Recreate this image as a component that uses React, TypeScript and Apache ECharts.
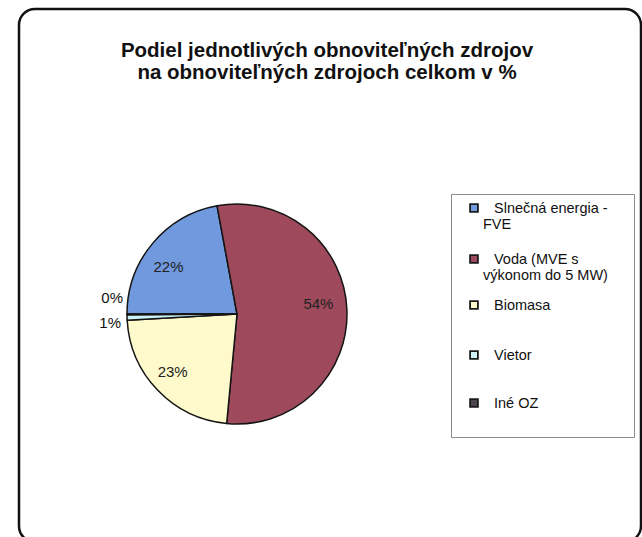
import React, { useEffect, useRef } from "react";
import * as echarts from "echarts";

const titleLines = [
  "Podiel jednotlivých obnoviteľných zdrojov",
  "na obnoviteľných zdrojoch celkom v %",
];
const categories = [
  "Slnečná energia - FVE",
  "Voda (MVE s výkonom do 5 MW)",
  "Biomasa",
  "Vietor",
  "Iné OZ",
];
const legendLines = [
  ["Slnečná energia -", "FVE"],
  ["Voda (MVE s", "výkonom do 5 MW)"],
  ["Biomasa"],
  ["Vietor"],
  ["Iné OZ"],
];
const shares = [22.1, 54.4, 22.6, 0.8, 0.1];
const colors = ["#7199DE", "#9E4A5C", "#FEFACB", "#CDF3F6", "#4E4450"];
const legendTops = [200, 251, 297, 347, 395];
const insideLabelIdx = [0, 1, 2];
const insideLabelOffsets: Record<number, [number, number]> = {
  0: [-2, 8],
  1: [-5, -7],
  2: [-2, -3],
};
const outsideLabelOffsets: Record<number, [number, number]> = { 3: [0, 5.5], 4: [2, -16.5] };

const FONT = "'Liberation Sans', Arial, sans-serif";

export default function App() {
  const ref = useRef<HTMLDivElement>(null);
  useEffect(() => {
    if (!ref.current) return;
    const chart = echarts.init(ref.current, null, { renderer: "svg" });

    const rich: Record<string, any> = {
      g: { width: 17, height: 16 },
      h: { width: 12, height: 16 },
      t: { fontSize: 14.5, lineHeight: 16, color: "#111", fontFamily: FONT },
    };
    colors.forEach((c, i) => {
      rich["s" + i] = {
        width: 6,
        height: 6,
        backgroundColor: c,
        borderColor: "#1a1a1a",
        borderWidth: 1.8,
      };
    });

    const legends = categories.map((name, i) => ({
      data: [name],
      left: 465,
      top: legendTops[i],
      orient: "vertical",
      icon: "rect",
      itemWidth: 0,
      itemHeight: 0,
      selectedMode: false,
      padding: 0,
      formatter: () => {
        const lines = legendLines[i];
        let s = `{s${i}|}{g|}{t|${lines[0]}}`;
        for (let k = 1; k < lines.length; k++) s += `\n{h|}{t|${lines[k]}}`;
        return s;
      },
      textStyle: { fontSize: 14.5, lineHeight: 16, color: "#111", fontFamily: FONT, rich },
    }));

    const mainData = categories.map((name, i) => ({
      name,
      value: shares[i],
      itemStyle: { color: colors[i] },
      label: { show: outsideLabelOffsets[i] !== undefined },
    }));
    const overlayData = categories.map((name, i) => ({
      name,
      value: shares[i],
      label: { show: insideLabelIdx.includes(i) },
    }));

    chart.setOption({
      animation: false,
      backgroundColor: "#ffffff",
      title: {
        text: titleLines.join("\n"),
        left: 322,
        top: 33,
        textAlign: "center",
        textStyle: {
          fontFamily: FONT,
          fontSize: 20.5,
          fontWeight: "bold",
          lineHeight: 22,
          color: "#111",
        },
      },
      legend: legends,
      graphic: [
        {
          type: "rect",
          shape: { x: 19, y: 9, width: 622, height: 533, r: 16 },
          style: { fill: "none", stroke: "#111", lineWidth: 2.5 },
          silent: true,
          z: -1,
        },
        {
          type: "rect",
          shape: { x: 451.5, y: 194.5, width: 183, height: 243 },
          style: { fill: "none", stroke: "#8a8a8a", lineWidth: 1 },
          silent: true,
          z: -1,
        },
      ],
      series: [
        {
          type: "pie",
          center: [237, 314],
          radius: [0, 110],
          startAngle: 180,
          clockwise: true,
          avoidLabelOverlap: false,
          data: mainData,
          itemStyle: { borderColor: "#151515", borderWidth: 1.5 },
          emphasis: { disabled: true },
          label: {
            position: "outside",
            formatter: (p: any) => Math.round(p.percent) + "%",
            fontFamily: FONT,
            fontSize: 15,
            color: "#111",
          },
          labelLine: { show: false, length: 1, length2: 0 },
          labelLayout: (p: any) => {
            const o = outsideLabelOffsets[p.dataIndex];
            return o !== undefined ? { dx: o[0], dy: o[1] } : {};
          },
        },
        {
          type: "pie",
          center: [237, 314],
          radius: [57, 110],
          startAngle: 180,
          clockwise: true,
          silent: true,
          avoidLabelOverlap: false,
          data: overlayData,
          itemStyle: { color: "rgba(0,0,0,0)", borderWidth: 0 },
          emphasis: { disabled: true },
          label: {
            position: "inside",
            formatter: (p: any) => Math.round(p.percent) + "%",
            fontFamily: FONT,
            fontSize: 15,
            color: "#222",
          },
          labelLine: { show: false },
          labelLayout: (p: any) => {
            const o = insideLabelOffsets[p.dataIndex];
            return o !== undefined ? { dx: o[0], dy: o[1] } : {};
          },
        },
      ],
    });
    return () => chart.dispose();
  }, []);

  return (
    <div
      ref={ref}
      style={{ position: "fixed", left: 0, top: 0, width: 642, height: 537, background: "#fff" }}
    />
  );
}
